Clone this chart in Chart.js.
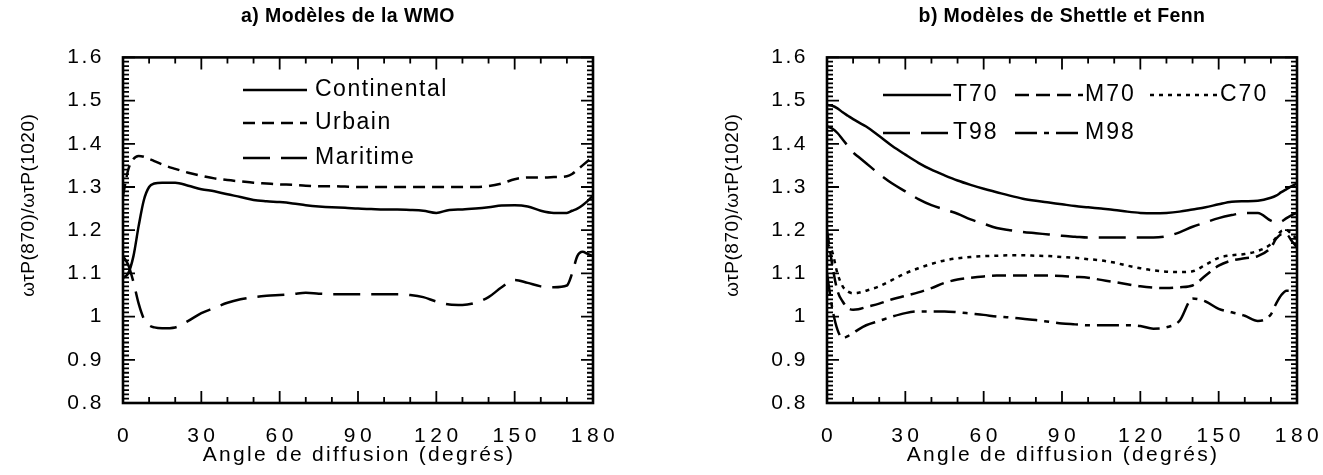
<!DOCTYPE html>
<html>
<head>
<meta charset="utf-8">
<script src="https://cdn.jsdelivr.net/npm/chart.js@4.4.1/dist/chart.umd.min.js"></script>
<style>
  html, body { margin: 0; padding: 0; background: #fff; }
  #wmo { position: absolute; left: 0; top: 0; }
  #sf { position: absolute; left: 704px; top: 0; }
</style>
</head>
<body>
<canvas id="wmo" width="704" height="475"></canvas>
<canvas id="sf" width="619" height="475"></canvas>
<script>
// scattering angles (degrees) where the curves were read
const angles = [0, 2, 4, 6, 8, 10, 12, 15, 20, 25, 30, 35, 40, 45, 50, 55, 60, 65, 70, 75, 80, 85,
  90, 95, 100, 105, 110, 115, 120, 125, 130, 135, 140, 145, 150, 155, 160, 165, 170, 172, 174, 176, 178, 180];
const xTickLabels = ['0', '30', '60', '90', '120', '150', '180'];
const yTickLabels = ['0.8', '0.9', '1', '1.1', '1.2', '1.3', '1.4', '1.5', '1.6'];

// a) WMO models
const continental = [1.09, 1.10, 1.14, 1.21, 1.27, 1.30, 1.308, 1.31, 1.31, 1.303, 1.295, 1.29, 1.283, 1.277, 1.27, 1.267, 1.265,
  1.262, 1.258, 1.255, 1.253, 1.252, 1.25, 1.249, 1.248, 1.248, 1.247, 1.245, 1.24, 1.247, 1.248, 1.25, 1.253, 1.257, 1.258, 1.255, 1.245,
  1.24, 1.24, 1.245, 1.25, 1.258, 1.268, 1.28];
const urbain = [1.28, 1.34, 1.365, 1.372, 1.37, 1.365, 1.36, 1.352, 1.342, 1.333, 1.326, 1.32, 1.316, 1.313, 1.31, 1.308, 1.306,
  1.305, 1.303, 1.302, 1.302, 1.301, 1.30, 1.30, 1.30, 1.30, 1.30, 1.30, 1.30, 1.30, 1.30, 1.30, 1.302, 1.308, 1.318, 1.322, 1.322,
  1.323, 1.325, 1.33, 1.34, 1.35, 1.36, 1.37];
const maritime = [1.14, 1.12, 1.08, 1.03, 0.995, 0.98, 0.975, 0.973, 0.975, 0.99, 1.008, 1.02, 1.032, 1.04, 1.045, 1.048, 1.05,
  1.052, 1.055, 1.053, 1.052, 1.052, 1.052, 1.052, 1.052, 1.052, 1.05, 1.045, 1.035, 1.028, 1.027, 1.032, 1.045, 1.068, 1.085, 1.078, 1.07,
  1.068, 1.072, 1.1, 1.14, 1.15, 1.145, 1.14];

// b) Shettle and Fenn models
const t70 = [1.49, 1.488, 1.482, 1.473, 1.465, 1.457, 1.45, 1.44, 1.418, 1.395, 1.375, 1.356, 1.34, 1.327, 1.315, 1.305, 1.296,
  1.288, 1.28, 1.273, 1.268, 1.264, 1.26, 1.256, 1.253, 1.25, 1.247, 1.243, 1.24, 1.239, 1.24, 1.243, 1.248, 1.253, 1.26, 1.266, 1.267,
  1.268, 1.275, 1.28, 1.288, 1.295, 1.302, 1.308];
const m70 = [1.2, 1.12, 1.06, 1.035, 1.02, 1.016, 1.017, 1.022, 1.03, 1.04, 1.048, 1.056, 1.066, 1.078, 1.086, 1.09, 1.093,
  1.095, 1.095, 1.095, 1.095, 1.095, 1.094, 1.092, 1.09, 1.085, 1.08, 1.075, 1.07, 1.067, 1.066, 1.068, 1.072, 1.095, 1.118, 1.13, 1.135,
  1.14, 1.16, 1.18, 1.19, 1.19, 1.175, 1.16];
const c70 = [1.17, 1.15, 1.1, 1.07, 1.058, 1.054, 1.055, 1.06, 1.07, 1.085, 1.1, 1.112, 1.122, 1.13, 1.135, 1.138, 1.14,
  1.141, 1.142, 1.142, 1.141, 1.14, 1.138, 1.136, 1.133, 1.13, 1.125, 1.118, 1.112, 1.107, 1.104, 1.103, 1.105, 1.12, 1.136, 1.142, 1.145,
  1.152, 1.168, 1.183, 1.198, 1.2, 1.19, 1.18];
const t98 = [1.44, 1.435, 1.425, 1.41, 1.395, 1.38, 1.37, 1.355, 1.33, 1.308, 1.29, 1.272, 1.258, 1.248, 1.238, 1.225, 1.215,
  1.205, 1.2, 1.196, 1.193, 1.19, 1.187, 1.185, 1.183, 1.183, 1.183, 1.183, 1.183, 1.183, 1.186, 1.195, 1.208, 1.218, 1.228, 1.235, 1.24,
  1.24, 1.222, 1.218, 1.22, 1.228, 1.235, 1.24];
const m98 = [1.1, 1.02, 0.97, 0.95, 0.955, 0.962, 0.97, 0.98, 0.99, 1.0, 1.008, 1.012, 1.012, 1.012, 1.01, 1.007, 1.004,
  1.0, 0.998, 0.995, 0.992, 0.988, 0.984, 0.982, 0.98, 0.98, 0.98, 0.98, 0.978, 0.972, 0.975, 0.99, 1.042, 1.035, 1.018, 1.01, 1.002,
  0.99, 1.005, 1.03, 1.05, 1.06, 1.06, 1.06];

const FONT = "'Liberation Sans', Arial, Helvetica, sans-serif";
Chart.defaults.font.family = FONT;
Chart.defaults.color = '#000';

// dash patterns
const SOLID = [];
const SHORT_DASH = [12, 7];
const LONG_DASH = [27, 11];
const MED_DASH = [14, 7];
const DOTS = [4, 5];
const DASH_DOT = [22, 7, 5, 7];

function series(label, values, dash) {
  return {
    label: label,
    data: angles.map((a, i) => ({ x: a, y: values[i] })),
    borderColor: '#000',
    borderWidth: 2.5,
    borderDash: dash,
    pointRadius: 0,
    fill: false,
    cubicInterpolationMode: 'monotone'
  };
}

// letter spacing for axis texts and the title (the print is widely tracked)
const textSpacing = {
  id: 'textSpacing',
  afterLayout(chart, args, opts) {
    Object.values(chart.scales).forEach(scale => {
      if (scale.$spaced) return;
      scale.$spaced = true;
      const cfg = opts[scale.id];
      const drawLabels = scale.drawLabels;
      const drawTitle = scale.drawTitle;
      scale.drawLabels = function (area) {
        this.ctx.save();
        this.ctx.letterSpacing = cfg.ticks + 'px';
        this.ctx.translate(cfg.ticksDx || 0, 0);
        drawLabels.call(this, area);
        this.ctx.restore();
      };
      scale.drawTitle = function () {
        this.ctx.save();
        this.ctx.letterSpacing = cfg.title + 'px';
        this.ctx.translate(cfg.titleDx || 0, cfg.titleDy || 0);
        drawTitle.call(this);
        this.ctx.restore();
      };
    });
    const tb = chart.titleBlock;
    if (tb && !tb.$spaced) {
      tb.$spaced = true;
      const draw = tb.draw;
      tb.draw = function (area) {
        this.ctx.save();
        this.ctx.letterSpacing = opts.title + 'px';
        this.ctx.translate(opts.titleDx || 0, 0);
        draw.call(this, area);
        this.ctx.restore();
      };
    }
  }
};

// closed box with inward ticks on all four sides
const frame = {
  id: 'frame',
  afterDatasetsDraw(chart, args, opts) {
    const { ctx, chartArea: a, scales: { x, y } } = chart;
    ctx.save();
    ctx.strokeStyle = '#000';
    ctx.setLineDash([]);
    ctx.lineWidth = 1.8;
    ctx.beginPath();
    const nx = Math.round((x.max - x.min) / opts.xMinor);
    for (let k = 0; k <= nx; k++) {
      const px = x.getPixelForValue(x.min + k * opts.xMinor);
      const len = k % opts.xPerMajor === 0 ? opts.major : opts.minor;
      ctx.moveTo(px, a.bottom); ctx.lineTo(px, a.bottom - len);
      ctx.moveTo(px, a.top); ctx.lineTo(px, a.top + len);
    }
    const ny = Math.round((y.max - y.min) / opts.yMinor);
    for (let k = 0; k <= ny; k++) {
      const py = y.getPixelForValue(y.min + k * opts.yMinor);
      const len = k % opts.yPerMajor === 0 ? opts.major : opts.minor;
      ctx.moveTo(a.left, py); ctx.lineTo(a.left + len, py);
      ctx.moveTo(a.right, py); ctx.lineTo(a.right - len, py);
    }
    ctx.stroke();
    ctx.lineWidth = 2.6;
    ctx.strokeRect(a.left, a.top, a.right - a.left, a.bottom - a.top);
    ctx.restore();
  }
};

// legend drawn inside the plot, line sample then label
const lineLegend = {
  id: 'lineLegend',
  afterDatasetsDraw(chart, args, opts) {
    const ctx = chart.ctx;
    ctx.save();
    ctx.font = opts.size + 'px ' + FONT;
    ctx.letterSpacing = opts.spacing + 'px';
    ctx.textBaseline = 'middle';
    ctx.textAlign = 'left';
    ctx.fillStyle = '#000';
    ctx.strokeStyle = '#000';
    chart.data.datasets.forEach((ds, i) => {
      const p = opts.items[i];
      ctx.lineWidth = ds.borderWidth;
      ctx.setLineDash(ds.borderDash);
      ctx.beginPath();
      ctx.moveTo(p.x, p.y);
      ctx.lineTo(p.x + opts.lineLength, p.y);
      ctx.stroke();
      ctx.fillText(ds.label, p.x + opts.lineLength + opts.gap, p.y);
    });
    ctx.restore();
  }
};

function options(title, padRight, legendOpts, titleDx) {
  return {
    responsive: false,
    animation: false,
    events: [],
    layout: { padding: { top: 0, left: 0, right: padRight, bottom: 0 } },
    scales: {
      x: {
        type: 'linear', min: 0, max: 180,
        grid: { display: false, drawTicks: false },
        border: { display: false },
        ticks: { stepSize: 30, padding: 21, font: { size: 21 }, callback: (v, i) => xTickLabels[i] },
        title: { display: true, text: 'Angle de diffusion (degrés)', font: { size: 21 }, padding: { top: 0, bottom: 7 } },
        afterFit(s) { s.height = 72; s.paddingLeft = 0; s.paddingRight = 0; }
      },
      y: {
        type: 'linear', min: 0.8, max: 1.6,
        grid: { display: false, drawTicks: false },
        border: { display: false },
        ticks: { stepSize: 0.1, padding: 19, font: { size: 21 }, callback: (v, i) => yTickLabels[i] },
        title: { display: true, text: 'ωτP(870)/ωτP(1020)', font: { size: 19 }, padding: { top: 17, bottom: 0 } },
        afterFit(s) { s.width = 123; s.paddingTop = 0; s.paddingBottom = 0; }
      }
    },
    plugins: {
      legend: { display: false },
      tooltip: { enabled: false },
      title: {
        display: true, text: title, fullSize: false,
        font: { size: 19.5, weight: 'bold' },
        padding: { top: 5, bottom: 29 }
      },
      textSpacing: {
        x: { ticks: 4.5, ticksDx: 2, title: 2.3, titleDx: 1 },
        y: { ticks: 2.5, title: 0.5, titleDy: -25 },
        title: 0.4, titleDx: titleDx
      },
      frame: { xMinor: 10, xPerMajor: 3, yMinor: 0.01, yPerMajor: 10, major: 12, minor: 6 },
      lineLegend: legendOpts
    }
  };
}

new Chart(document.getElementById('wmo'), {
  type: 'line',
  data: {
    datasets: [
      series('Continental', continental, SOLID),
      series('Urbain', urbain, SHORT_DASH),
      series('Maritime', maritime, LONG_DASH)
    ]
  },
  options: options('a) Modèles de la WMO', 111, {
    size: 23, spacing: 1.5, lineLength: 64, gap: 8,
    items: [{ x: 243, y: 90 }, { x: 243, y: 123 }, { x: 243, y: 158 }]
  }, -10),
  plugins: [textSpacing, frame, lineLegend]
});

new Chart(document.getElementById('sf'), {
  type: 'line',
  data: {
    datasets: [
      series('T70', t70, SOLID),
      series('M70', m70, MED_DASH),
      series('C70', c70, DOTS),
      series('T98', t98, LONG_DASH),
      series('M98', m98, DASH_DOT)
    ]
  },
  options: options('b) Modèles de Shettle et Fenn', 26, {
    size: 23, spacing: 2, lineLength: 68, gap: 2,
    items: [{ x: 179, y: 95 }, { x: 311, y: 95 }, { x: 446, y: 95 }, { x: 179, y: 133 }, { x: 311, y: 133 }]
  }, 0),
  plugins: [textSpacing, frame, lineLegend]
});
</script>
</body>
</html>
